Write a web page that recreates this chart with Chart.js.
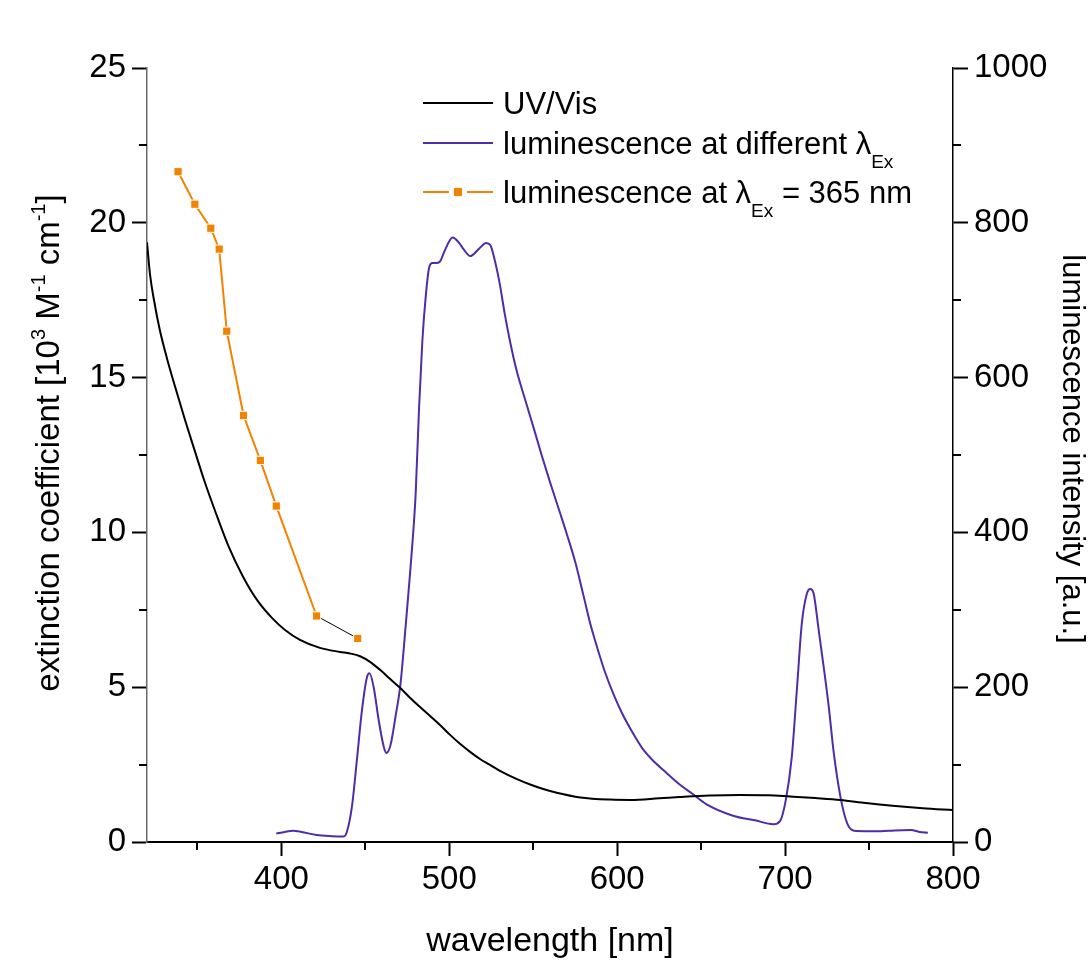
<!DOCTYPE html>
<html>
<head>
<meta charset="utf-8">
<script src="https://cdn.jsdelivr.net/npm/chart.js@4.4.1/dist/chart.umd.min.js"></script>
<style>
  html, body { margin: 0; background: #fff; }
  canvas { display: block; }
</style>
</head>
<body>
<canvas id="chart" width="1088" height="964"></canvas>
<script>
const FONT = '"Liberation Sans", Arial, sans-serif';

// UV/Vis, extinction coefficient [10^3 M^-1 cm^-1]
const uvX = [320, 321.8, 324.2, 327.7, 331.9, 336.7, 342.6, 348.6, 354.5, 360.5, 368.2, 377.2, 385.5, 394.4, 402.2, 411.1,
  423, 434.9, 440.9, 446.9, 452.8, 458.8, 464.7, 470.7, 476.6, 482.6, 488.6, 494.5, 500.5, 506.4, 512.4, 518.3, 524.3,
  530.2, 540, 549, 556, 564, 578, 596, 608, 625, 637, 655, 673, 690, 703, 718, 733, 748, 764, 782, 800];
const uvY = [19.37, 18.33, 17.49, 16.52, 15.62, 14.71, 13.64, 12.61, 11.61, 10.7, 9.6, 8.57, 7.82, 7.24, 6.85, 6.53,
  6.27, 6.14, 6.09, 6.0, 5.82, 5.56, 5.27, 4.98, 4.66, 4.36, 4.07, 3.78, 3.46, 3.17, 2.91, 2.68, 2.49,
  2.3, 2.04, 1.84, 1.71, 1.59, 1.44, 1.37, 1.36, 1.41, 1.45, 1.5, 1.52, 1.51, 1.47, 1.42, 1.36, 1.26, 1.17, 1.09, 1.03];

// luminescence at different excitation wavelengths [a.u.]
const lumX = [397, 402, 407, 412, 421, 430, 437, 439, 442, 445, 448, 451, 452.5, 455, 458, 461, 462.5, 465, 468, 471,
  474, 476, 477.5, 480, 482, 484, 486, 488, 490, 492, 494.5, 497.5, 502, 505.5, 508.5, 512.5, 517.5, 522, 524.5, 527.5,
  530, 533, 536, 540, 545, 550, 555, 560, 566, 570, 575, 580, 584, 588, 593, 598, 603, 609, 615, 621,
  628, 638, 645, 653, 669, 682, 693, 697, 700.5, 704, 707, 710, 713, 715, 717, 720, 723, 726, 729, 733,
  737, 741, 750, 757, 765, 775, 780, 785];
const lumY = [11, 13, 14.5, 13, 9, 7.5, 7, 13, 45, 106, 170, 213, 218, 200, 157, 123, 115, 125, 162, 205,
  278, 330, 370, 450, 560, 648, 705, 742, 748, 748, 750, 765, 781, 775, 766, 757, 766, 774, 771, 748,
  722, 683, 649, 610, 573, 537, 500, 465, 425, 398, 362, 318, 282, 252, 218, 190, 166, 142, 121, 106,
  92, 73, 62, 49, 34, 28, 23, 27, 55, 110, 196, 283, 321, 327, 321, 274, 226, 175, 115, 58,
  24, 14.6, 14, 14, 15, 15.5, 13, 12];

// luminescence at lambda_Ex = 365 nm
const exX = [338.5, 348.5, 358, 363, 367.5, 377.5, 387.5, 397, 421, 445.5];
const exY = [866, 824, 793, 766, 660, 551, 493, 434, 292, 263];

const xTicks = [400, 500, 600, 700, 800];
const xMinor = [350, 450, 550, 650, 750];
const leftTicks = [0, 5, 10, 15, 20, 25];
const leftMinor = [2.5, 7.5, 12.5, 17.5, 22.5];
const rightTicks = [0, 200, 400, 600, 800, 1000];
const rightMinor = [100, 300, 500, 700, 900];

const BLACK = '#000000';
const PURPLE = '#4f2ca8';
const ORANGE = '#f28200';

function toPoints(xs, ys) {
  return xs.map((x, i) => ({ x, y: ys[i] }));
}

// text with sub/superscripts
function drawRuns(ctx, x, y, runs, size) {
  runs.forEach((r) => {
    const small = r.sub || r.sup;
    const s = small ? Math.round(size * 0.6) : size;
    ctx.font = s + 'px ' + FONT;
    const dy = r.sub ? size * 0.44 : r.sup ? -size * 0.42 : 0;
    ctx.fillText(r.t, x, y + dy);
    x += ctx.measureText(r.t).width;
  });
  return x;
}
function runsWidth(ctx, runs, size) {
  let w = 0;
  runs.forEach((r) => {
    const s = r.sub || r.sup ? Math.round(size * 0.6) : size;
    ctx.font = s + 'px ' + FONT;
    w += ctx.measureText(r.t).width;
  });
  return w;
}

const minorTicks = {
  id: 'minorTicks',
  afterDraw(chart) {
    const { ctx, scales } = chart;
    ctx.save();
    ctx.strokeStyle = BLACK;
    ctx.lineWidth = 2;
    ctx.beginPath();
    xMinor.forEach((v) => {
      const px = Math.round(scales.x.getPixelForValue(v));
      ctx.moveTo(px, scales.x.top);
      ctx.lineTo(px, scales.x.top + 8);
    });
    leftMinor.forEach((v) => {
      const py = Math.round(scales.y.getPixelForValue(v));
      ctx.moveTo(scales.y.right, py);
      ctx.lineTo(scales.y.right - 8, py);
    });
    rightMinor.forEach((v) => {
      const py = Math.round(scales.y2.getPixelForValue(v));
      ctx.moveTo(scales.y2.left, py);
      ctx.lineTo(scales.y2.left + 8, py);
    });
    ctx.stroke();
    ctx.restore();
  },
};

const labels = {
  id: 'labels',
  afterDraw(chart) {
    const { ctx } = chart;
    ctx.save();
    ctx.fillStyle = BLACK;
    ctx.textBaseline = 'alphabetic';
    ctx.textAlign = 'left';

    // left axis title, rotated
    const leftRuns = [
      { t: 'extinction coefficient [10' }, { t: '3', sup: true },
      { t: ' M' }, { t: '-1', sup: true },
      { t: ' cm' }, { t: '-1', sup: true }, { t: ']' },
    ];
    const lw = runsWidth(ctx, leftRuns, 33);
    ctx.save();
    ctx.translate(59, 443);
    ctx.rotate(-Math.PI / 2);
    drawRuns(ctx, -lw / 2, 0, leftRuns, 33);
    ctx.restore();

    // right axis title, rotated the other way
    const rightRuns = [{ t: 'luminescence intensity [a.u.]' }];
    const rw = runsWidth(ctx, rightRuns, 31);
    ctx.save();
    ctx.translate(1063, 449);
    ctx.rotate(Math.PI / 2);
    drawRuns(ctx, -rw / 2, 0, rightRuns, 31);
    ctx.restore();

    // legend
    const lx0 = 423, lx1 = 493, tx = 503, size = 31;
    const rows = [
      { y: 103, color: BLACK, runs: [{ t: 'UV/Vis' }] },
      { y: 143, color: PURPLE, runs: [{ t: 'luminescence at different λ' }, { t: 'Ex', sub: true }] },
      { y: 192, color: ORANGE, marker: true, runs: [{ t: 'luminescence at λ' }, { t: 'Ex', sub: true }, { t: ' = 365 nm' }] },
    ];
    rows.forEach((row) => {
      ctx.strokeStyle = row.color;
      ctx.lineWidth = 2;
      ctx.beginPath();
      ctx.moveTo(lx0, row.y);
      ctx.lineTo(lx1, row.y);
      ctx.stroke();
      if (row.marker) {
        const cx = (lx0 + lx1) / 2;
        ctx.fillStyle = '#ffffff';
        ctx.fillRect(cx - 9, row.y - 6, 18, 12);
        ctx.fillStyle = ORANGE;
        ctx.fillRect(cx - 4, row.y - 4, 8, 8);
      }
      ctx.fillStyle = BLACK;
      drawRuns(ctx, tx, row.y + 11, row.runs, size);
    });
    ctx.restore();
  },
};

function majorTicks(values) {
  return (scale) => {
    scale.ticks = values.map((v) => ({ value: v }));
  };
}

new Chart(document.getElementById('chart'), {
  type: 'line',
  data: {
    datasets: [
      {
        label: 'luminescence at λEx = 365 nm',
        data: toPoints(exX, exY),
        yAxisID: 'y2',
        borderColor: ORANGE,
        borderWidth: 2,
        backgroundColor: ORANGE,
        pointStyle: 'rect',
        pointRadius: 5.8,
        pointBackgroundColor: ORANGE,
        pointBorderColor: '#ffffff',
        pointBorderWidth: 1,
        tension: 0,
        segment: {
          borderColor: (c) => (c.p0DataIndex === 8 ? BLACK : undefined),
          borderWidth: (c) => (c.p0DataIndex === 8 ? 1 : undefined),
        },
      },
      {
        label: 'UV/Vis',
        data: toPoints(uvX, uvY),
        yAxisID: 'y',
        borderColor: BLACK,
        borderWidth: 2,
        pointRadius: 0,
        cubicInterpolationMode: 'monotone',
      },
      {
        label: 'luminescence at different λEx',
        data: toPoints(lumX, lumY),
        yAxisID: 'y2',
        borderColor: PURPLE,
        borderWidth: 2,
        pointRadius: 0,
        cubicInterpolationMode: 'monotone',
      },
    ],
  },
  options: {
    responsive: false,
    animation: false,
    layout: { padding: { top: 68, left: 0, right: 0, bottom: 0 } },
    plugins: {
      legend: { display: false },
      tooltip: { enabled: false },
    },
    scales: {
      x: {
        type: 'linear',
        min: 320,
        max: 800,
        afterBuildTicks: majorTicks(xTicks),
        afterFit: (s) => { s.height = 122; },
        border: { display: true, color: BLACK, width: 2 },
        grid: { drawOnChartArea: false, tickLength: 14, tickWidth: 2, tickColor: BLACK },
        ticks: { color: BLACK, font: { family: FONT, size: 33 }, padding: 4, maxRotation: 0, autoSkip: false },
        title: {
          display: true,
          text: 'wavelength [nm]',
          color: BLACK,
          font: { family: FONT, size: 34, lineHeight: 1 },
          padding: { top: 0, bottom: 5 },
        },
      },
      y: {
        type: 'linear',
        position: 'left',
        min: 0,
        max: 25,
        afterBuildTicks: majorTicks(leftTicks),
        afterFit: (s) => { s.width = 147; },
        border: { display: true, color: '#6a6a6a', width: 1.5 },
        grid: { drawOnChartArea: false, tickLength: 15, tickWidth: 2, tickColor: BLACK },
        ticks: { color: BLACK, font: { family: FONT, size: 33 }, padding: 6 },
      },
      y2: {
        type: 'linear',
        position: 'right',
        min: 0,
        max: 1000,
        afterBuildTicks: majorTicks(rightTicks),
        afterFit: (s) => { s.width = 135; },
        border: { display: true, color: BLACK, width: 1.5 },
        grid: { drawOnChartArea: false, tickLength: 15, tickWidth: 2, tickColor: BLACK },
        ticks: { color: BLACK, font: { family: FONT, size: 33 }, padding: 6, callback: (v) => String(v) },
      },
    },
  },
  plugins: [minorTicks, labels],
});
</script>
</body>
</html>
